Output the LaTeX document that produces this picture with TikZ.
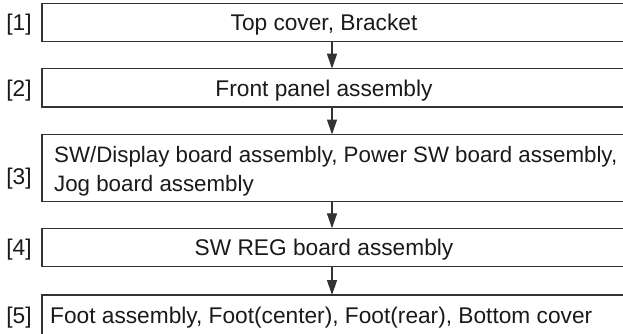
\documentclass[tikz,border=0pt]{standalone}
\usepackage{fontspec}
\setmainfont{Liberation Sans}
\usetikzlibrary{arrows.meta}
\definecolor{ink}{HTML}{1A1A1A}
\definecolor{rule}{HTML}{333333}
\begin{document}
\begin{tikzpicture}[x=1pt,y=-1pt,
  stepbox/.style={draw=rule, line width=1.3pt, rectangle, inner sep=0pt,
    outer sep=0pt, minimum width=640pt, anchor=north west},
  steptext/.style={text=ink, inner sep=0pt,
    font=\fontsize{22.7}{29}\selectfont},
  steplabel/.style={steptext, anchor=base},
  flow/.style={draw=rule, line width=1.3pt,
    -{Triangle[length=15pt,width=10pt]}}]
\useasboundingbox (0,0) rectangle (623,333);
\clip (0,0) rectangle (623,333);
\fill[white] (0,0) rectangle (623,333);

% step boxes, open towards the right edge
\node[stepbox, minimum height=38pt]   (b1) at (42,3.3)  {};
\node[stepbox, minimum height=38.3pt] (b2) at (42,68.7) {};
\node[stepbox, minimum height=67.2pt] (b3) at (42,134.5) {};
\node[stepbox, minimum height=38.4pt] (b4) at (42,228.3) {};
\node[stepbox, minimum height=60pt]   (b5) at (42,295)  {};

% step numbers
\node[steplabel] (n1) at (19,30.5)  {[1]};
\node[steplabel] (n2) at (19,96)    {[2]};
\node[steplabel] (n3) at (19,184)   {[3]};
\node[steplabel] (n4) at (19,255.5) {[4]};
\node[steplabel] (n5) at (19,323)   {[5]};

% step contents
\node[steptext, anchor=base] (t1) at (324,30.5)  {Top cover, Bracket};
\node[steptext, anchor=base] (t2) at (324,96)    {Front panel assembly};
\node[steptext, anchor=base west, align=left,
      font=\fontsize{22.3}{29}\selectfont] (t3) at (54,191)
  {SW/Display board assembly, Power SW board assembly,\\Jog board assembly};
\node[steptext, anchor=base] (t4) at (324,255.5) {SW REG board assembly};
\node[steptext, anchor=base west] (t5) at (50,323)
  {Foot assembly, Foot(center), Foot(rear), Bottom cover};

% flow arrows between consecutive steps
\coordinate (ax) at (332,0);
\draw[flow] (b1.south -| ax) -- (b2.north -| ax);
\draw[flow] (b2.south -| ax) -- (b3.north -| ax);
\draw[flow] (b3.south -| ax) -- (b4.north -| ax);
\draw[flow] (b4.south -| ax) -- (b5.north -| ax);
\end{tikzpicture}
\end{document}
